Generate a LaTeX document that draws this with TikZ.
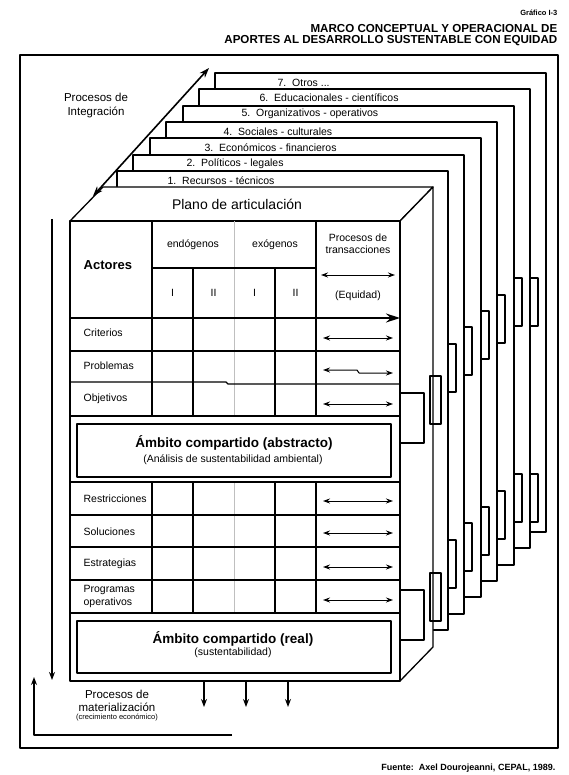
\documentclass[tikz,border=0pt]{standalone}
\usepackage{fontspec}
\setmainfont{Liberation Sans}
\usetikzlibrary{arrows.meta}
\begin{document}
\begin{tikzpicture}[x=1pt,y=-1pt,>={Stealth[length=8pt,width=6pt]},line join=round,line width=1.3pt,
  txt/.style={inner sep=0pt,font=\fontsize{10.5}{12}\selectfont},
  ttl/.style={inner sep=0pt,anchor=east,font=\fontsize{11.6}{13}\selectfont\bfseries},
  gran/.style={inner sep=0pt,font=\fontsize{13.5}{15}\selectfont\bfseries},
  fila/.style={txt,anchor=west,align=left},
  plano/.style={draw,fill=white},
  trans/.style={<->,line width=1pt,>={Stealth[length=7pt,width=5pt]}},
  divis/.style={gray!50,line width=0.6pt}]
\useasboundingbox (0,0) rectangle (568,775);
% titulo y fuente
\node[ttl,font=\fontsize{7.5}{9}\selectfont\bfseries] (graf) at (558,13) {Gráfico I-3};
\node[ttl] (tit1) at (558,29) {MARCO CONCEPTUAL Y OPERACIONAL DE};
\node[ttl] (tit2) at (558,41) {APORTES AL DESARROLLO SUSTENTABLE CON EQUIDAD};
\node[ttl,font=\fontsize{9}{10}\selectfont\bfseries] (fuente) at (556,768) {Fuente:\ \ Axel Dourojeanni, CEPAL, 1989.};
\draw (20,55) rectangle (558,748);
% planos
\draw[plano] (215,73) rectangle (546,532);
\draw[plano] (199,89) rectangle (530,548);
\draw[plano] (183,106) rectangle (514,565);
\draw[plano] (166,122) rectangle (497,581);
\draw[plano] (150,138) rectangle (481,597);
\draw[plano] (133,155) rectangle (464,614);
\draw[plano] (117,171) rectangle (448,630);
\node[txt,anchor=west] (niv7) at (277,83) {7.\ \ Otros ...};
\node[txt,anchor=west] (niv6) at (259,98) {6.\ \ Educacionales - científicos};
\node[txt,anchor=west] (niv5) at (241,114) {5.\ \ Organizativos - operativos};
\node[txt,anchor=west] (niv4) at (223,132) {4.\ \ Sociales - culturales};
\node[txt,anchor=west] (niv3) at (204,148) {3.\ \ Económicos - financieros};
\node[txt,anchor=west] (niv2) at (186,164) {2.\ \ Políticos - legales};
\node[txt,anchor=west] (niv1) at (167,181) {1.\ \ Recursos - técnicos};
% pestanas
\draw (514,278) rectangle (522,326);
\draw (497,295) rectangle (505,343);
\draw (481,311) rectangle (489,359);
\draw (464,327) rectangle (472,375);
\draw (448,344) rectangle (456,392);
\draw (530,278) rectangle (538,326);
\draw (514,474) rectangle (522,522);
\draw (530,474) rectangle (538,522);
\draw (497,491) rectangle (505,539);
\draw (481,507) rectangle (489,555);
\draw (464,523) rectangle (472,571);
\draw (448,540) rectangle (456,588);
% caja
\draw[plano] (70,221) -- (103,187) -- (433,187) -- (400,221) -- cycle;
\draw[plano] (400,221) -- (433,187) -- (433,647) -- (400,681) -- cycle;
\draw (430,376) rectangle (441,424);
\draw (430,573) rectangle (441,621);
\draw (400,393) -- (424,393) -- (424,443) -- (400,443);
\draw (400,590) -- (424,590) -- (424,640) -- (400,640);
\draw[plano] (70,221) rectangle (400,681);
\node[inner sep=0pt,font=\fontsize{14}{16}\selectfont] (plano) at (237,204) {Plano de articulación};
% tabla
\draw[divis] (234,221) -- (234,416) (234,482) -- (234,613);
\draw (152,221) -- (152,416) (316,221) -- (316,416) (152,268) -- (316,268);
\draw (193,268) -- (193,416) (275,268) -- (275,416);
\draw (152,482) -- (152,613) (193,482) -- (193,613) (275,482) -- (275,613) (316,482) -- (316,613);
\draw[-{Stealth[length=14pt,width=9pt]}] (70,318) -- (400,318);
\draw (70,351) -- (400,351);
\draw (70,382) -- (226,382) -- (228,384) -- (400,384);
\draw (70,416) -- (400,416) (70,482) -- (400,482);
\draw (70,515) -- (400,515) (70,547) -- (400,547);
\draw (70,580) -- (400,580) (70,613) -- (400,613);
\draw (77,424) rectangle (391,477);
\draw (77,621) rectangle (391,673);
\node[gran,anchor=west,font=\fontsize{13}{15}\selectfont\bfseries] (actores) at (83,265) {Actores};
\node[txt] (endo) at (193,245) {endógenos};
\node[txt] (exo) at (275,245) {exógenos};
\node[txt] (ia) at (172.5,293) {I};
\node[txt] (iia) at (213.5,293) {II};
\node[txt] (ib) at (254.5,293) {I};
\node[txt] (iib) at (295.5,293) {II};
\node[txt,align=center] (proc) at (358,244) {Procesos de\\transacciones};
\node[txt] (equidad) at (358,296) {(Equidad)};
\draw[trans] (321,275) -- (395,275);
\node[fila] (crit) at (83,333) {Criterios};
\node[fila] (prob) at (83,366) {Problemas};
\node[fila] (obj) at (83,399) {Objetivos};
\node[fila] (restr) at (83,499) {Restricciones};
\node[fila] (sol) at (83,532) {Soluciones};
\node[fila] (estr) at (83,564) {Estrategias};
\node[fila,font=\fontsize{10.5}{13}\selectfont] (prog) at (83,596) {Programas\\operativos};
\draw[trans] (323,338) -- (393,338);
\draw[trans] (323,370) -- (357,370) -- (359,373) -- (393,373);
\draw[trans] (323,404) -- (393,404);
\draw[trans] (323,501) -- (393,501);
\draw[trans] (323,533) -- (393,533);
\draw[trans] (323,567) -- (393,567);
\draw[trans] (323,600) -- (393,600);
\node[gran] (abstr) at (234,443) {Ámbito compartido (abstracto)};
\node[txt] (abstrsub) at (233,460) {(Análisis de sustentabilidad ambiental)};
\node[gran] (real) at (233,639) {Ámbito compartido (real)};
\node[txt] (realsub) at (233,653) {(sustentabilidad)};
% procesos
\draw[<->,line width=1.6pt,>={Stealth[length=10pt,width=7pt]}] (93,196) -- (209,68);
\node[txt,align=center,font=\fontsize{11.5}{14}\selectfont] (integ) at (96,106) {Procesos de\\Integración};
\draw[->] (52,219) -- (52,680);
\draw[->] (232,735) -- (34,735) -- (34,677);
\draw[->] (204,681) -- (204,707);
\draw[->] (246,681) -- (246,707);
\draw[->] (288,681) -- (288,707);
\node[txt,align=center,font=\fontsize{11.5}{13}\selectfont] (mat) at (117,701) {Procesos de\\materialización};
\node[txt,font=\fontsize{7.5}{9}\selectfont] (crec) at (117,718) {(crecimiento económico)};
\end{tikzpicture}
\end{document}
